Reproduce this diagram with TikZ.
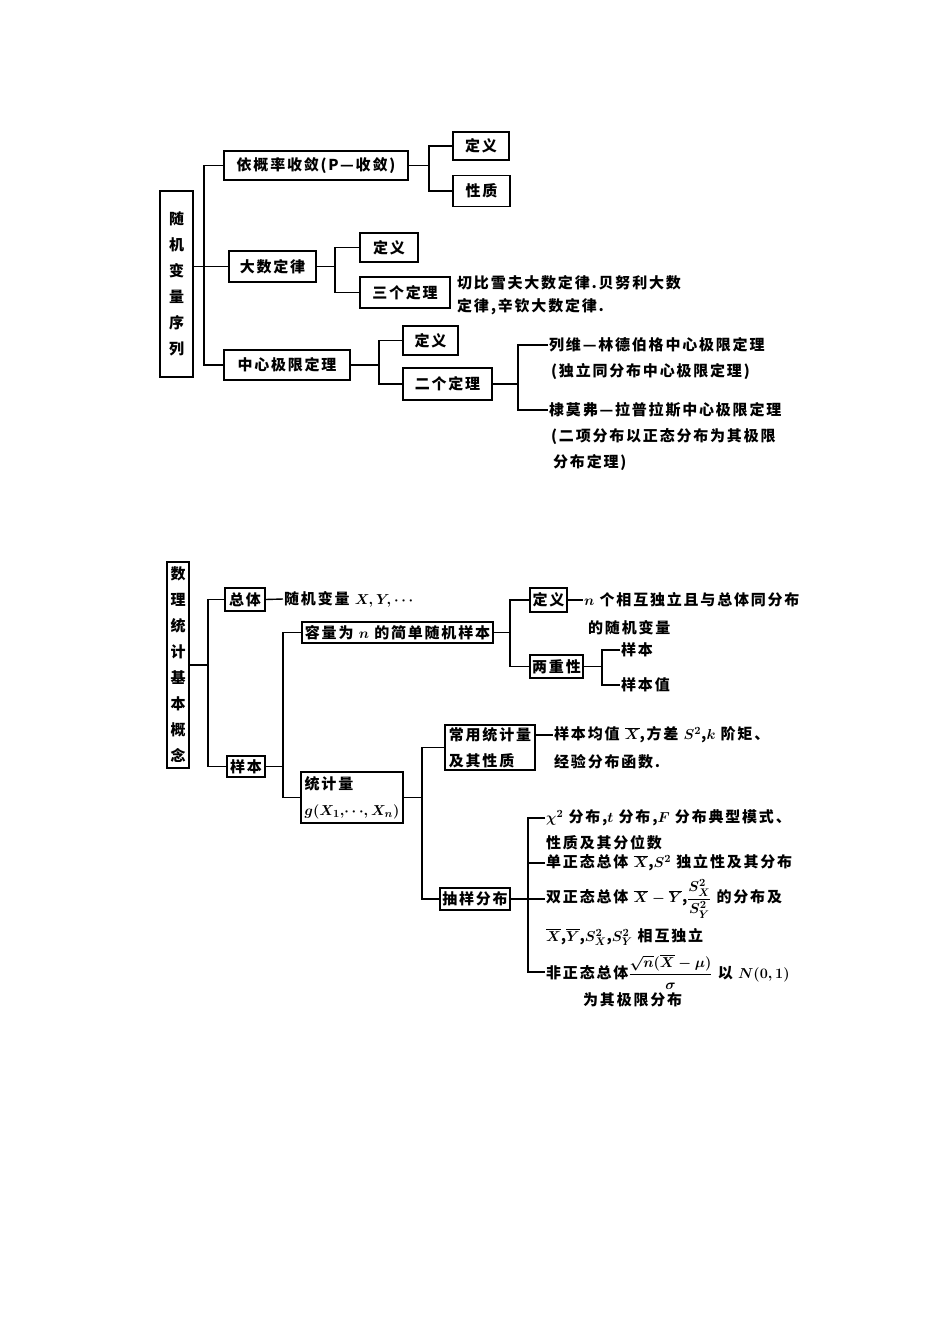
\documentclass[tikz,border=0pt]{standalone}
\usepackage{fontspec}
\usepackage{amsmath}
\newfontfamily\hei[LetterSpace=12]{Noto Sans CJK SC}
\DeclareMathSizes{15}{15}{10.5}{8}
\usetikzlibrary{positioning}

\begin{document}
\boldmath
\begin{tikzpicture}[
  x=1pt, y=-1pt,
  conn/.style={line width=1.4pt},
  box/.style 2 args={draw, line width=1.4pt, inner sep=0pt, minimum width=#1,
                     minimum height=#2, align=center,
                     font=\hei\bfseries\fontsize{15}{26}\selectfont},
  txt/.style={anchor=west, inner sep=1pt, font=\hei\bfseries\fontsize{15}{20}\selectfont},
]
  \useasboundingbox (0,0) rectangle (950,1344);

  \coordinate (j1) at (204,0);
  \coordinate (j2) at (429,0);
  \coordinate (j3) at (335,0);
  \coordinate (j4) at (379,0);
  \coordinate (j5) at (518,0);

  \node[box={33}{186}] (seq) at (176.5,284) {随\\机\\变\\量\\序\\列};
  \node[box={184}{29}] (conv) at (316,165.5) {依概率收敛(P—收敛)};
  \node[box={56}{28}] (convdef) at (481,146) {定义};
  \node[box={57}{31}] (convprop) at (481.5,191) {性质};
  \node[box={87}{31}] (lln) at (272.5,266.5) {大数定律};
  \node[box={58}{29}] (llndef) at (389,247.5) {定义};
  \node[box={90}{31}] (llnthm) at (405,292.5) {三个定理};
  \node[txt] (llnt1) at (456,283) {切比雪夫大数定律.贝努利大数};
  \node[txt] (llnt2) at (456,307) {定律,辛钦大数定律.};
  \node[box={126}{30}] (clt) at (287,365) {中心极限定理};
  \node[box={55}{29}] (cltdef) at (430.5,340.5) {定义};
  \node[box={89}{32}] (cltthm) at (447.5,384) {二个定理};
  \node[txt] (lev1) at (548,345) {列维—林德伯格中心极限定理};
  \node[txt] (lev2) at (550,372) {(独立同分布中心极限定理)};
  \node[txt] (dem1) at (548,410) {棣莫弗—拉普拉斯中心极限定理};
  \node[txt] (dem2) at (550,437) {(二项分布以正态分布为其极限};
  \node[txt] (dem3) at (552,463) {分布定理)};

  \draw[conn] (seq.east |- lln.west) -- (lln.west);
  \draw[conn] (conv.west) -| (j1 |- clt.west) -- (clt.west);
  \draw[conn] (conv.east) -- (j2 |- conv.east);
  \draw[conn] (convdef.west) -| (j2 |- convprop.west) -- (convprop.west);
  \draw[conn] (lln.east) -- (j3 |- lln.east);
  \draw[conn] (llndef.west) -| (j3 |- llnthm.west) -- (llnthm.west);
  \draw[conn] (clt.east) -- (j4 |- clt.east);
  \draw[conn] (cltdef.west) -| (j4 |- cltthm.west) -- (cltthm.west);
  \draw[conn] (cltthm.east) -- (j5 |- cltthm.east);
  \draw[conn] (lev1.west) -| (j5 |- dem1.west) -- (dem1.west);

  \coordinate (k1) at (208,0);
  \coordinate (k2) at (283,0);
  \coordinate (k3) at (510,0);
  \coordinate (k4) at (602,0);
  \coordinate (k5) at (422,0);
  \coordinate (k6) at (528,0);

  \node[box={22}{206}] (basic) at (178,665) {数\\理\\统\\计\\基\\本\\概\\念};
  \node[box={40}{23}] (pop) at (245,599.5) {总体};
  \node[txt] (popt) at (283,599) {随机变量 $X,Y,\cdots$};
  \node[box={38}{21}] (samp) at (246,766.5) {样本};
  \node[box={191}{21}] (srs) at (397.5,632.5) {容量为 $n$ 的简单随机样本};
  \node[box={102}{51}, align=left] (stat) at (352,797.5) {统计量\\$g(X_1,\!\cdots\!,X_n)$};
  \node[box={37}{24}] (srsdef) at (548.5,600) {定义};
  \node[txt] (srsd1) at (583,600) {$n$ 个相互独立且与总体同分布};
  \node[txt] (srsd2) at (587,628) {的随机变量};
  \node[box={53}{23}] (dual) at (556.5,666.5) {两重性};
  \node[txt] (dual1) at (620,650) {样本};
  \node[txt] (dual2) at (620,685) {样本值};
  \node[box={90}{45}, align=left] (common) at (490,747.5) {常用统计量\\及其性质};
  \node[txt] (com1) at (553,735) {样本均值 $\overline{X}$,方差 $S^2$,$k$ 阶矩、};
  \node[txt] (com2) at (553,762) {经验分布函数.};
  \node[box={70}{22}] (sampdist) at (475,899) {抽样分布};
  \node[txt] (chi1) at (545,818) {$\chi^2$ 分布,$t$ 分布,$F$ 分布典型模式、};
  \node[txt] (chi2) at (545,843) {性质及其分位数};
  \node[txt] (one) at (545,863) {单正态总体 $\overline{X}$,$S^2$ 独立性及其分布};
  \node[txt] (two1) at (545,899) {双正态总体 $\overline{X}-\overline{Y}$,$\dfrac{S_X^2}{S_Y^2}$ 的分布及};
  \node[txt] (two2) at (545,937) {$\overline{X}$,$\overline{Y}$,$S_X^2$,$S_Y^2$ 相互独立};
  \node[txt] (non1) at (545,972) {非正态总体$\dfrac{\sqrt{n}(\overline{X}-\mu)}{\sigma}$ 以 $N(0,1)$};
  \node[txt] (non2) at (582,1000) {为其极限分布};

  \draw[conn] (basic.east) -- (k1 |- basic.east);
  \draw[conn] (pop.west) -| (k1 |- samp.west) -- (samp.west);
  \draw[conn] (pop.east) -- (popt.west);
  \draw[conn] (samp.east) -- (k2 |- samp.east);
  \draw[conn] (srs.west) -| (k2 |- stat.west) -- (stat.west);
  \draw[conn] (srs.east) -- (k3 |- srs.east);
  \draw[conn] (srsdef.west) -| (k3 |- dual.west) -- (dual.west);
  \draw[conn] (srsdef.east) -- (srsd1.west);
  \draw[conn] (dual.east) -- (k4 |- dual.east);
  \draw[conn] (dual1.west) -| (k4 |- dual2.west) -- (dual2.west);
  \draw[conn] (stat.east) -- (k5 |- stat.east);
  \draw[conn] (common.west) -| (k5 |- sampdist.west) -- (sampdist.west);
  \draw[conn] (common.east |- com1.west) -- (com1.west);
  \draw[conn] (sampdist.east) -- (k6 |- sampdist.east);
  \draw[conn] (chi1.west) -| (k6 |- non1.west) -- (non1.west);
  \draw[conn] (one.west) -- (k6 |- one.west);
  \draw[conn] (two1.west) -- (k6 |- two1.west);
\end{tikzpicture}
\end{document}
